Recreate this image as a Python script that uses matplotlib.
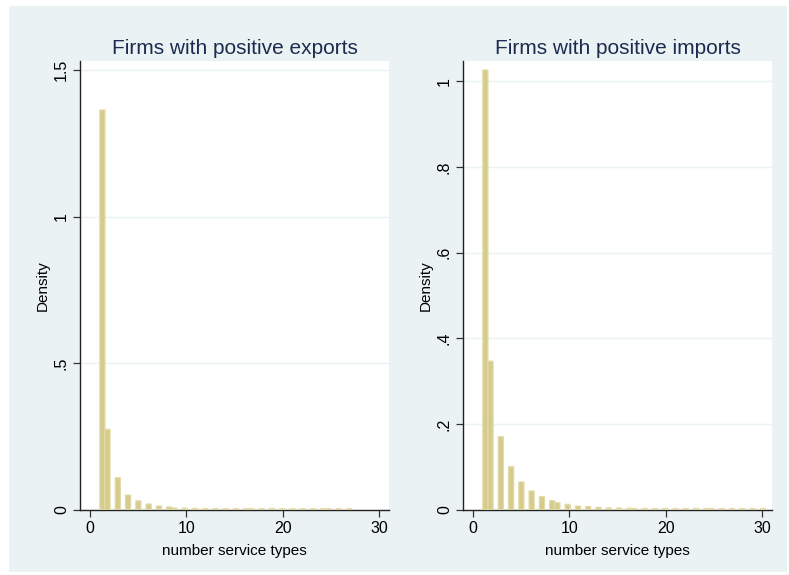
import numpy as np
import matplotlib
matplotlib.use("Agg")
import matplotlib.pyplot as plt
from matplotlib.patches import Rectangle

plt.rcParams['font.family'] = ['Liberation Sans', 'DejaVu Sans']

# number of service types (integer values) and histogram densities
exp_types = list(range(1, 28))
exp_density = [1.364, 0.275, 0.110, 0.051, 0.031, 0.0205, 0.0136, 0.0102, 0.0068, 0.006,
               0.0055, 0.005, 0.005, 0.0048, 0.0048, 0.0048, 0.0048, 0.0048, 0.0055, 0.0045,
               0.0045, 0.0045, 0.0045, 0.0045, 0.0045, 0.005, 0.005]
imp_types = list(range(1, 31))
imp_density = [1.026, 0.347, 0.171, 0.101, 0.0653, 0.0443, 0.031, 0.0218, 0.017, 0.0132,
               0.0093, 0.0082, 0.0062, 0.0048, 0.0045, 0.004, 0.0036, 0.0036, 0.0035, 0.0035,
               0.0034, 0.0034, 0.0036, 0.0034, 0.0034, 0.0034, 0.0034, 0.0034, 0.0034, 0.0034]

exp_yticks = [0, 0.5, 1, 1.5]
exp_ylabels = ['0', '.5', '1', '1.5']
imp_yticks = [0, 0.2, 0.4, 0.6, 0.8, 1.0]
imp_ylabels = ['0', '.2', '.4', '.6', '.8', '1']
xticks = [0, 10, 20, 30]

BIN_W = 0.534
BG = '#EAF2F3'
FILL = '#D4CB8C'
EDGE = '#E2DBA8'
TITLE_C = '#1C2B4F'

fig = plt.figure(figsize=(7.89, 5.75), dpi=100, facecolor='white')
fig.patches.append(Rectangle((9 / 789, 3 / 575), 778 / 789, 566 / 575,
                             transform=fig.transFigure, facecolor=BG,
                             edgecolor='none', zorder=-10))


def panel(rect, types, dens, yticks, ylabels, ymax, title):
    ax = fig.add_axes(rect)
    t = np.asarray(types)
    left = 1 + np.floor((t - 1) / BIN_W) * BIN_W
    bars = ax.bar(left, dens, width=BIN_W, align='edge', color=FILL,
                  edgecolor=EDGE, linewidth=0.9, zorder=3)
    for b in bars:
        b.set_snap(False)
    ax.set_xlim(-1.06, 31.05)
    ax.set_ylim(0, ymax)
    ax.set_yticks(yticks)
    ax.set_yticklabels(ylabels, rotation=90, va='center')
    ax.set_xticks(xticks)
    ax.set_xticklabels([str(v) for v in xticks])
    ax.tick_params(axis='both', labelsize=11.5, length=5, width=0.9,
                   color='#333333', pad=3)
    ax.grid(axis='y', color=BG, linewidth=1.0, zorder=0)
    ax.set_axisbelow(True)
    for s in ('top', 'right'):
        ax.spines[s].set_visible(False)
    for s in ('left', 'bottom'):
        ax.spines[s].set_color('#222222')
        ax.spines[s].set_linewidth(1.0)
    ax.set_ylabel('Density', fontsize=11, labelpad=3)
    ax.set_xlabel('number service types', fontsize=11, labelpad=6)
    ax.set_title(title, fontsize=15, color=TITLE_C, pad=5)
    return ax


panel([80 / 789, 65 / 575, 309 / 789, 449 / 575], exp_types, exp_density,
      exp_yticks, exp_ylabels, 1.531, 'Firms with positive exports')
panel([463 / 789, 65 / 575, 309 / 789, 449 / 575], imp_types, imp_density,
      imp_yticks, imp_ylabels, 1.047, 'Firms with positive imports')

fig.savefig('out.png', dpi=100, facecolor='white')
